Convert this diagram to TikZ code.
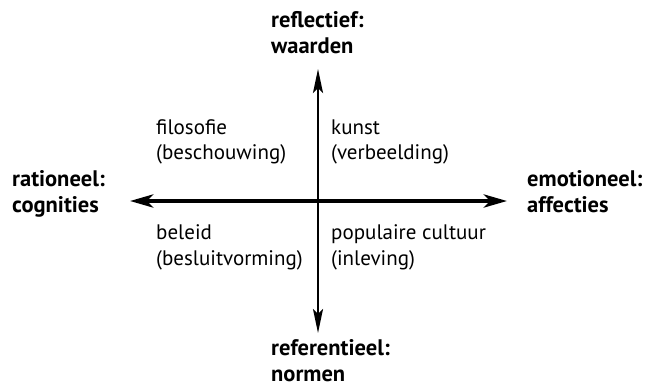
\documentclass[tikz,border=0pt]{standalone}
\usepackage{fontspec}
\setmainfont{PT Sans}
\usepackage{tikz}
\usetikzlibrary{arrows.meta,positioning}
\tikzset{
  axislabel/.style={inner sep=0pt, align=left, anchor=base west, font=\bfseries\fontsize{22.5}{25.5}\selectfont},
  quadlabel/.style={inner sep=0pt, align=left, anchor=base west, font=\fontsize{21}{25.5}\selectfont},
  haxis/.style={line width=4pt, {Stealth[length=23pt,width=13pt,inset=6pt]}-{Stealth[length=23pt,width=13pt,inset=6pt]}},
  vaxis/.style={line width=2.4pt, {Stealth[length=24pt,width=10pt,inset=5pt]}-{Stealth[length=24pt,width=10pt,inset=5pt]}},
}
\begin{document}
\begin{tikzpicture}[x=1pt,y=-1pt]
    \useasboundingbox (0,0) rectangle (647,388);
    % axes
    \coordinate (west)  at (130,201);
    \coordinate (east)  at (507,201);
    \coordinate (north) at (318,69);
    \coordinate (south) at (318,333);
    \draw[haxis] (west) -- (east);
    \draw[vaxis] (south) -- (north);

    % axis labels (anchored at the last line)
    \node[axislabel] (rational)    at (12,212)  {rationeel:\\cognities};
    \node[axislabel] (emotional)   at (527,212) {emotioneel:\\affecties};
    \node[axislabel] (reflective)  at (271,53)  {reflectief:\\waarden};
    \node[axislabel] (referential) at (271,381) {referentieel:\\normen};

    % quadrants
    \node[quadlabel] (philosophy) at (156,159.5) {filosofie\\(beschouwing)};
    \node[quadlabel] (art)        at (331,159.5) {kunst\\(verbeelding)};
    \node[quadlabel] (policy)     at (156,265)   {beleid\\(besluitvorming)};
    \node[quadlabel] (popular)    at (331,265)   {populaire cultuur\\(inleving)};
\end{tikzpicture}
\end{document}
